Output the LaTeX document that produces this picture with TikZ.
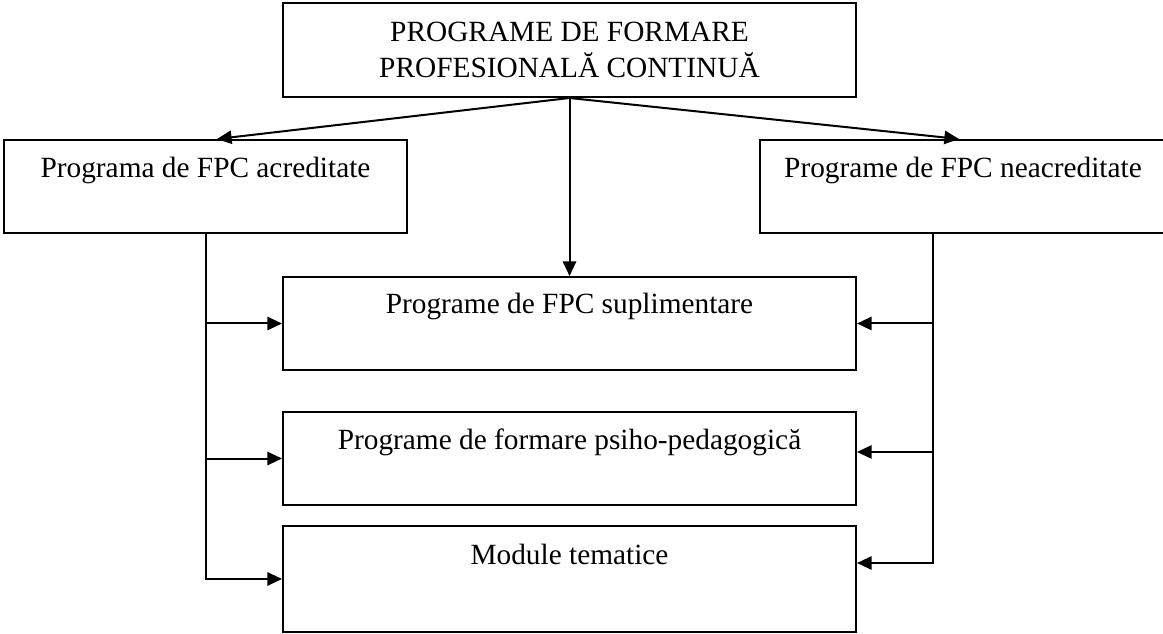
\documentclass[tikz,border=0pt]{standalone}
\usepackage{fontspec}
\setmainfont{Liberation Serif}
\usetikzlibrary{arrows.meta}

\tikzset{every picture/.style={line width=1.5pt}}
\tikzset{
  box/.style={draw, line width=1.5pt, inner sep=0pt, align=center, font=\fontsize{22pt}{27pt}\selectfont},
  toptext/.style={box, anchor=north, text height=28.5pt, text depth=41.25pt},
  arr/.style={line width=1.5pt, -{Triangle[length=11pt,width=10pt]}}
}

\begin{document}
\begin{tikzpicture}[x=0.75pt,y=0.75pt,yscale=-1,xscale=1]

\useasboundingbox (0,0) rectangle (1163,634);

\node (pfpc) [box, minimum width=429.75pt, minimum height=70.5pt] at (569.5,50) {PROGRAME DE FORMARE\\PROFESIONALĂ CONTINUĂ};

\node (acr) [toptext, minimum width=302.25pt] at (205.5,139) {Programa de FPC acreditate};
\node (neacr) [toptext, minimum width=304.5pt] at (963,139) {Programe de FPC neacreditate};

\node (supl) [toptext, minimum width=429.75pt, text height=27.75pt, text depth=42pt] at (569.5,276) {Programe de FPC suplimentare};
\node (psiho) [toptext, minimum width=429.75pt, text height=27.75pt, text depth=42pt] at (569.5,411) {Programe de formare psiho-pedagogică};
\node (modul) [toptext, minimum width=429.75pt, text height=28.5pt, text depth=51pt] at (569.5,525) {Module tematice};

\draw[arr] (pfpc.south) -- ([xshift=8.6pt]acr.north);
\draw[arr] (pfpc.south) -- ([xshift=-3pt]neacr.north);
\draw[arr] (pfpc.south) -- (supl.north);

\draw[arr] (acr.south) |- (modul.west);
\draw[arr] (acr.south |- supl.west) -- (supl.west);
\draw[arr] (acr.south |- psiho.west) -- (psiho.west);

\coordinate (rbus) at (933,232);
\coordinate (psiR) at ([yshift=-4.9pt]psiho.east);
\coordinate (modR) at ([yshift=-12pt]modul.east);
\draw[arr] (rbus) |- (modR);
\draw[arr] (rbus |- supl.east) -- (supl.east);
\draw[arr] (rbus |- psiR) -- (psiR);

\end{tikzpicture}
\end{document}
